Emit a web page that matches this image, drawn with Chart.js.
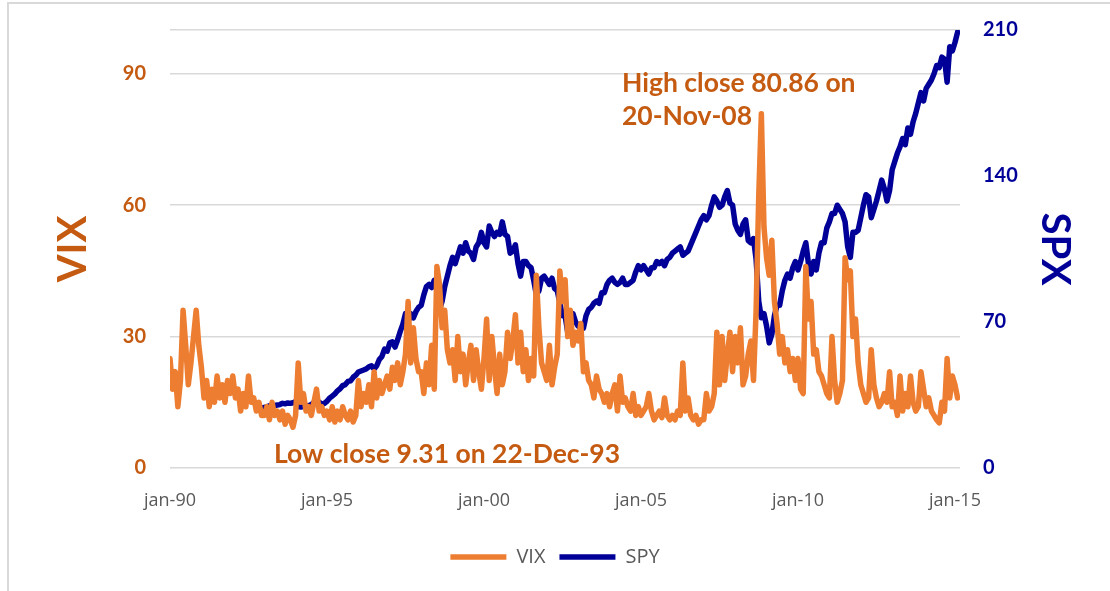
<!DOCTYPE html>
<html>
<head>
<meta charset="utf-8">
<script src="https://cdn.jsdelivr.net/npm/chart.js@4/dist/chart.umd.min.js"></script>
<style>
  html, body { margin: 0; padding: 0; background: #fff; }
  #frame { position: absolute; left: 7px; top: 2px; width: 1110px; height: 600px;
           border-left: 2px solid #d9d9d9; border-top: 2px solid #d9d9d9; }
  #wrap { position: absolute; left: 0; top: 0; width: 1110px; height: 591px; }
</style>
</head>
<body>
<div id="frame"></div>
<div id="wrap"><canvas id="vixChart" width="1110" height="591"></canvas></div>
<script>
// Valeurs mensuelles
const vixStart = 1990;          // janvier 1990
const spyStart = 1992 + 11 / 12; // décembre 1992

const vixValues = [
  25, 18, 22, 14, 20, 36, 28, 19, 24, 30, 36, 28,      // 1990
  23, 16, 20, 14, 18, 15, 21, 16, 19, 15, 20, 17,      // 1991
  21, 16, 18, 13, 17, 14, 21, 15, 16, 13, 15, 12,      // 1992
  12, 14, 11, 15, 12, 13, 11, 13, 10, 12, 11, 9.31,    // 1993
  12, 24, 15, 17, 13, 14, 12, 15, 18, 13, 14, 12,      // 1994
  13, 11, 14, 10.5, 13, 11, 14, 12, 11, 13, 10.5, 12,  // 1995
  20, 14, 17, 15, 19, 14, 22, 16, 20, 17, 19, 21,      // 1996
  18, 23, 20, 24, 19, 22, 26, 38, 24, 32, 25, 22,      // 1997
  22, 17, 24, 19, 28, 18, 46, 42, 32, 36, 27, 24,      // 1998
  27, 20, 30, 22, 26, 19, 24, 28, 20, 27, 22, 18,      // 1999
  25, 34, 20, 30, 23, 17, 26, 19, 22, 31, 25, 29,      // 2000
  35, 24, 31, 22, 27, 20, 25, 21, 44, 32, 24, 22,      // 2001
  20, 28, 19, 23, 26, 45, 38, 43, 30, 36, 28, 31,      // 2002
  29, 33, 22, 24, 20, 19, 16, 21, 18, 17, 15, 17,      // 2003
  14, 17, 19, 13, 21, 15, 16, 14, 13, 17, 12, 14,      // 2004
  12, 13, 14, 17, 13, 11, 12, 13, 11.5, 16, 12, 11,    // 2005
  12, 11, 13, 12, 24, 13, 16, 12, 11, 12, 10, 11,      // 2006
  11, 17, 13, 14, 17, 31, 19, 30, 20, 26, 31, 22,      // 2007
  30, 24, 32, 19, 21, 26, 29, 20, 36, 62, 80.86, 55,   // 2008
  48, 44, 52, 38, 33, 26, 30, 24, 27, 22, 25, 20,      // 2009
  25, 18, 17, 46, 34, 38, 26, 27, 22, 21, 19, 17,      // 2010
  16, 30, 20, 15, 17, 20, 48, 43, 45, 30, 34, 24,      // 2011
  19, 17, 15, 16, 27, 19, 16, 14, 15, 17, 15, 22,      // 2012
  14, 15, 12, 21, 13, 17, 14, 21, 15, 13, 14, 22,      // 2013
  18, 14, 16, 13, 12, 11, 10.3, 15, 13, 25, 16, 21,    // 2014
  19, 16                                               // 2015
];

const spyValues = [
  28.7,                                                          // 1992
  29, 29.3, 29.8, 29.5, 30, 30.2, 30.4, 31, 30.8, 31.2, 31, 31.3, // 1993
  31.8, 29.5, 29.2, 29.6, 30, 29.8, 30.4, 31.4, 31, 31.6, 30.5, 31, // 1994
  32, 33.5, 34.5, 35.5, 37, 38, 39.5, 40, 41.5, 41.8, 43.5, 44.5,   // 1995
  46, 46.5, 47, 47.5, 48.5, 49, 47.5, 49, 52, 53.5, 57, 56,         // 1996
  60, 60.5, 58, 61.5, 65.5, 69, 74, 70, 74, 72, 75, 77,             // 1997
  78, 83, 87, 88, 86.5, 90, 89, 76, 80, 87, 92, 97,                 // 1998
  101, 98, 102, 106, 103, 108, 104, 103, 100, 106, 108, 113,        // 1999
  108, 106, 116, 113, 111, 113, 112, 118, 112, 111, 103, 104,       // 2000
  107, 98, 92, 99, 99, 97, 96, 90, 83, 85, 91, 92,                  // 2001
  90, 88, 91, 86, 85, 79, 73, 73, 65, 70, 74, 70,                   // 2002
  68, 67, 67, 73, 76, 77, 79, 80, 79, 84, 84, 88,                   // 2003
  90, 91, 89, 88, 89, 91, 88, 88, 89, 90, 94, 97,                   // 2004
  95, 97, 95, 93, 96, 96, 99, 98, 99, 97, 100, 101,                 // 2005
  103, 104, 105, 106, 102, 103, 104, 107, 110, 113, 116, 119,       // 2006
  121, 119, 121, 126, 130, 128, 125, 126, 130, 133, 127, 126,       // 2007
  117, 114, 112, 117, 119, 109, 108, 110, 100, 80, 72, 74,          // 2008
  68, 60, 64, 73, 78, 78, 85, 90, 93, 91, 96, 99,                   // 2009
  95, 99, 104, 108, 98, 93, 99, 95, 103, 108, 108, 115,             // 2010
  118, 122, 122, 126, 124, 122, 118, 106, 101, 113, 113, 114,       // 2011
  120, 126, 131, 130, 120, 124, 128, 133, 138, 134, 128, 133,       // 2012
  143, 147, 151, 154, 158, 155, 163, 160, 166, 170, 175, 180,       // 2013
  176, 182, 184, 186, 189, 193, 192, 197, 196, 185, 202, 200,       // 2014
  204, 209                                                          // 2015
];

const xTickYears = [1990, 1995, 2000, 2005, 2010, 2015];
const vixTicks = [0, 30, 60, 90, 100];
const spyTicks = [0, 70, 140, 210];

const seriesNames = ['VIX', 'SPY'];
const annotations = [
  { lines: ['High close 80.86 on', '20-Nov-08'], x: 622, y: 92, size: 26.5, lead: 33 },
  { lines: ['Low close 9.31 on 22-Dec-93'], x: 274, y: 463, size: 26.5, lead: 0 }
];

const orange = '#ED7D31';
const darkOrange = '#C55A11';
const navy = '#000099';
const grey = '#595959';

function toPoints(start, values) {
  return values.map((v, i) => ({ x: start + i / 12, y: v }));
}

// Pas de marge automatique en haut/bas pour les axes verticaux
function fixVertical(width) {
  return s => {
    s.width = width;
    s.paddingTop = 0;
    s.paddingBottom = 0;
  };
}

// Textes d'annotation sur le graphique
const annotationPlugin = {
  id: 'annotationTexts',
  afterDatasetsDraw(chart) {
    const ctx = chart.ctx;
    ctx.save();
    ctx.fillStyle = darkOrange;
    ctx.textAlign = 'left';
    ctx.textBaseline = 'alphabetic';
    annotations.forEach(a => {
      ctx.font = 'bold ' + a.size + 'px Lato';
      a.lines.forEach((t, i) => ctx.fillText(t, a.x, a.y + i * a.lead));
    });
    ctx.restore();
  }
};

document.addEventListener('DOMContentLoaded', function() {
  const ctx = document.getElementById('vixChart').getContext('2d');
  new Chart(ctx, {
    type: 'line',
    data: {
      datasets: [{
        label: seriesNames[0],
        data: toPoints(vixStart, vixValues),
        borderColor: orange,
        backgroundColor: orange,
        borderWidth: 5.5,
        pointRadius: 0,
        borderJoinStyle: 'round',
        borderCapStyle: 'round',
        tension: 0,
        yAxisID: 'y'
      }, {
        label: seriesNames[1],
        data: toPoints(spyStart, spyValues),
        borderColor: navy,
        backgroundColor: navy,
        borderWidth: 5.5,
        pointRadius: 0,
        borderJoinStyle: 'round',
        borderCapStyle: 'round',
        tension: 0,
        yAxisID: 'y2'
      }]
    },
    options: {
      responsive: false,
      animation: false,
      layout: { padding: { top: 30, left: 0, right: 0, bottom: 14 } },
      plugins: {
        tooltip: { enabled: false },
        legend: {
          position: 'bottom',
          labels: {
            usePointStyle: true,
            pointStyle: 'line',
            pointStyleWidth: 56,
            boxHeight: 20,
            padding: 14,
            color: grey,
            font: { family: 'Open Sans', size: 20 }
          }
        }
      },
      scales: {
        x: {
          type: 'linear',
          min: 1990,
          max: 2015.16,
          afterBuildTicks: s => { s.ticks = xTickYears.map(v => ({ value: v })); },
          afterFit: s => { s.height = 591 - 14 - s.chart.legend.height - 468; },
          grid: { display: false },
          border: { display: false },
          ticks: {
            color: grey,
            padding: 14,
            maxRotation: 0,
            font: { family: 'Open Sans', size: 18 },
            callback: v => 'jan-' + String(v).slice(2)
          }
        },
        y: {
          position: 'left',
          min: 0,
          max: 100,
          afterBuildTicks: s => { s.ticks = vixTicks.map(v => ({ value: v })); },
          afterFit: fixVertical(170),
          grid: { color: '#d9d9d9', lineWidth: 1.5, drawTicks: false },
          border: { display: false },
          ticks: {
            color: darkOrange,
            padding: 24,
            font: { family: 'Lato', size: 20, weight: 'bold' },
            callback: v => (v === 100 ? '' : v)
          },
          title: {
            display: true,
            text: 'VIX',
            color: darkOrange,
            padding: { top: 49 },
            font: { family: 'Lato', size: 40, weight: 'bold' }
          }
        },
        y2: {
          position: 'right',
          min: 0,
          max: 210,
          afterBuildTicks: s => { s.ticks = spyTicks.map(v => ({ value: v })); },
          afterFit: fixVertical(150),
          grid: { display: false, drawTicks: false },
          border: { display: false },
          ticks: {
            color: navy,
            padding: 23,
            font: { family: 'Lato', size: 20, weight: 'bold' }
          },
          title: {
            display: true,
            text: 'SPX',
            color: navy,
            padding: { top: 31 },
            font: { family: 'Lato', size: 40, weight: 'bold' }
          }
        }
      }
    },
    plugins: [annotationPlugin]
  });
});
</script>
</body>
</html>
